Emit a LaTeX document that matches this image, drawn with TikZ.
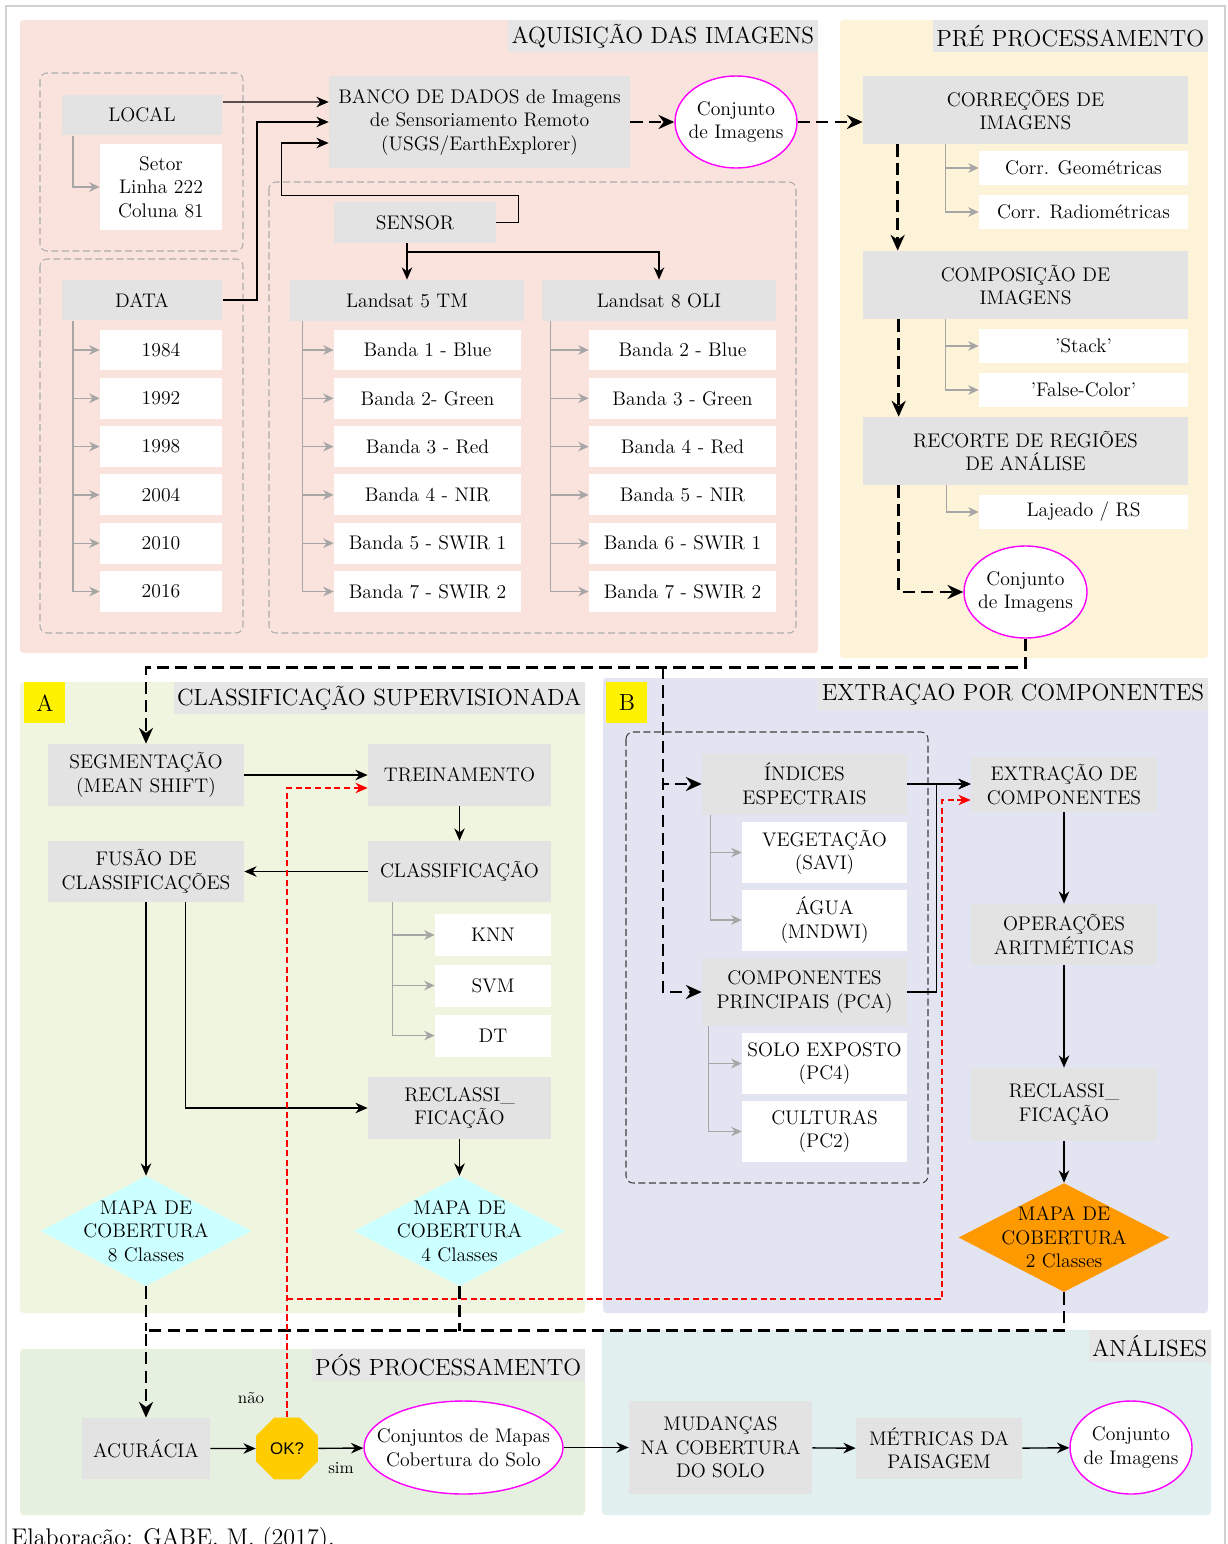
\documentclass[tikz,border=0pt]{standalone}
\usepackage{fontspec}
\newfontfamily\okfont{Liberation Sans}
\usetikzlibrary{arrows.meta,shapes.geometric}
\definecolor{rosa}{RGB}{251,227,221}
\definecolor{amarelo}{RGB}{253,243,216}
\definecolor{verdeA}{RGB}{240,245,223}
\definecolor{lavanda}{RGB}{227,228,241}
\definecolor{verdeP}{RGB}{230,240,224}
\definecolor{azulA}{RGB}{225,239,239}
\definecolor{cinza}{RGB}{227,227,227}
\definecolor{cinzaT}{RGB}{230,230,230}
\definecolor{ciano}{RGB}{204,255,255}
\definecolor{laranja}{RGB}{255,153,0}
\definecolor{ouro}{RGB}{255,204,0}
\definecolor{rosaforte}{RGB}{255,0,255}
\newcommand\fcaixa{\fontsize{11.2}{13.4}\selectfont}
\newcommand\ftitulo{\fontsize{13.3}{15}\selectfont}
\begin{document}
\begin{tikzpicture}[x=0.02cm, y=-0.02cm, font=\fcaixa,
	caixa/.style 2 args={fill=cinza, inner sep=0pt, align=center, minimum width=#1, minimum height=#2},
	branco/.style 2 args={fill=white, inner sep=0pt, align=center, minimum width=#1, minimum height=#2},
	titulo/.style={fill=cinzaT, anchor=north east, inner xsep=2pt, inner ysep=0pt, minimum height=0.64cm, font=\ftitulo},
	letra/.style={fill=yellow, anchor=north west, minimum size=0.82cm, inner sep=0pt, font=\ftitulo},
	grupo/.style={draw=gray!65, line width=0.6pt, dash pattern=on 4pt off 2pt, rounded corners=4pt},
	seta/.style={line width=0.8pt, -{Stealth[length=7pt,width=6pt]}},
	fluxo/.style={line width=1.6pt, dash pattern=on 7pt off 3.5pt},
	ponta/.style={-{Stealth[length=9pt,width=8pt]}},
	ramo/.style={draw=gray!70, line width=0.8pt, -{Stealth[length=6pt,width=5.5pt]}},
	volta/.style={draw=red, line width=0.6pt, dash pattern=on 3.5pt off 2pt, -{Stealth[length=7pt,width=6pt]}},
	conj/.style={ellipse, draw=rosaforte, fill=white, line width=0.8pt, inner sep=0pt},
	mapa/.style={diamond, inner sep=0pt, minimum width=4.22cm, minimum height=2.2cm}]
		\useasboundingbox (0,0) rectangle (1227,1544);
		\draw[black!18, line width=1pt] (6,1600) |- (1225,6) -- (1225,1600);
		%%%%%%%%% paineis
		\fill[rosa, rounded corners=2pt] (20,20) rectangle (818,653);
		\fill[amarelo, rounded corners=2pt] (840,20) rectangle (1208,658);
		\fill[verdeA, rounded corners=2pt] (20,682) rectangle (585,1313);
		\fill[lavanda, rounded corners=2pt] (603,678) rectangle (1208,1313);
		\fill[verdeP, rounded corners=2pt] (20,1349) rectangle (585,1515);
		\fill[azulA, rounded corners=2pt] (602,1330) rectangle (1211,1515);
		\node[titulo] (t1) at (818,20) {AQUISIÇÃO DAS IMAGENS};
		\node[titulo] (t2) at (1208,20) {PRÉ PROCESSAMENTO};
		\node[titulo] (t3) at (585,682) {CLASSIFICAÇÃO SUPERVISIONADA};
		\node[titulo] (t4) at (1208,678) {EXTRAÇAO POR COMPONENTES};
		\node[titulo] (t5) at (585,1349) {PÓS PROCESSAMENTO};
		\node[titulo] (t6) at (1211,1330) {ANÁLISES};
		\node[letra] (la) at (24,682) {A};
		\node[letra] (lb) at (606,682) {B};
		\draw[grupo] (40,73) rectangle (243,251);
		\draw[grupo] (40,259) rectangle (243,633);
		\draw[grupo] (269,182) rectangle (796,633);
		\draw[grupo, draw=black!75] (626,732) rectangle (928,1183);
		%%%%%%%%% aquisicao
		\node[caixa={3.22cm}{0.82cm}] (local) at (142,115) {LOCAL};
		\node[branco={2.44cm}{1.74cm}] (setor) at (161,187) {Setor\\Linha 222\\Coluna 81};
		\node[caixa={3.22cm}{0.82cm}] (data) at (142,300) {DATA};
		\foreach \txt [count=\i] in {1984,1992,1998,2004,2010,2016}
			\node[branco={2.44cm}{0.82cm}] (ano\i) at (161,{350+48.3*(\i-1)}) {\txt};
		\node[caixa={6.02cm}{1.84cm}] (banco) at (479.5,122) {BANCO DE DADOS de Imagens\\de Sensoriamento Remoto\\(USGS/EarthExplorer)};
		\node[caixa={3.24cm}{0.82cm}] (sensor) at (415,222.5) {SENSOR};
		\node[caixa={4.68cm}{0.82cm}] (l5) at (407,300.5) {Landsat 5 TM};
		\node[caixa={4.68cm}{0.82cm}] (l8) at (659,300.5) {Landsat 8 OLI};
		\foreach \txt [count=\i] in {Banda 1 - Blue, Banda 2- Green, Banda 3 - Red, Banda 4 - NIR, Banda 5 - SWIR 1, Banda 7 - SWIR 2}
			\node[branco={3.74cm}{0.82cm}] (tm\i) at (427.5,{350+48.3*(\i-1)}) {\txt};
		\foreach \txt [count=\i] in {Banda 2 - Blue, Banda 3 - Green, Banda 4 - Red, Banda 5 - NIR, Banda 6 - SWIR 1, Banda 7 - SWIR 2}
			\node[branco={3.74cm}{0.82cm}] (oli\i) at (682.5,{350+48.3*(\i-1)}) {\txt};
		\node[conj, minimum width=2.44cm, minimum height=1.84cm] (c1) at (736,122) {};
		\node[align=center] at (c1) {Conjunto\\de Imagens};
		\draw[ramo] ([xshift=0.24cm]local.south west) |- (setor.west);
		\foreach \i in {1,...,6} {
			\draw[ramo] ([xshift=0.24cm]data.south west) |- (ano\i.west);
			\draw[ramo] ([xshift=0.26cm]l5.south west) |- (tm\i.west);
			\draw[ramo] ([xshift=0.18cm]l8.south west) |- (oli\i.west);
		}
		\draw[seta] ([yshift=0.26cm]local.east) -- ([yshift=0.4cm]banco.west);
		\draw[seta] (data.east) -- ++(34,0) |- (banco.west);
		\draw[seta] (sensor.east) -- ++(22,0) -- ++(0,-27) -- ++(-237,0) |- ([yshift=-0.42cm]banco.west);
		\draw[seta] (l5.north |- sensor.south) -- (l5.north);
		\draw[seta] (l5.north |- 0,252) -| (l8.north);
		\draw[fluxo, ponta] (banco.east) -- (c1.west);
		%%%%%%%%% pre processamento
		\node[caixa={6.5cm}{1.36cm}] (corr) at (1025.5,110) {CORREÇÕES DE\\IMAGENS};
		\node[branco={4.18cm}{0.68cm}] (geo) at (1083.5,168) {Corr. Geométricas};
		\node[branco={4.18cm}{0.68cm}] (rad) at (1083.5,212) {Corr. Radiométricas};
		\node[caixa={6.5cm}{1.36cm}] (comp) at (1025.5,285) {COMPOSIÇÃO DE\\IMAGENS};
		\node[branco={4.18cm}{0.68cm}] (stack) at (1083.5,346) {'Stack'};
		\node[branco={4.18cm}{0.68cm}] (falsa) at (1083.5,390) {'False-Color'};
		\node[caixa={6.5cm}{1.36cm}] (recorte) at (1025.5,451) {RECORTE DE REGIÕES\\DE ANÁLISE};
		\node[branco={4.18cm}{0.68cm}] (laj) at (1083.5,512) {Lajeado / RS};
		\node[conj, minimum width=2.46cm, minimum height=1.84cm] (c2) at (1025.5,592) {};
		\node[align=center] at (c2) {Conjunto\\de Imagens};
		\draw[fluxo, ponta] (c1.east) -- (c1.east -| corr.west);
		\draw[ramo] ([xshift=1.66cm]corr.south west) |- (geo.west);
		\draw[ramo] ([xshift=1.66cm]corr.south west) |- (rad.west);
		\draw[ramo] ([xshift=1.66cm]comp.south west) |- (stack.west);
		\draw[ramo] ([xshift=1.66cm]comp.south west) |- (falsa.west);
		\draw[ramo] ([xshift=1.68cm]recorte.south west) |- (laj.west);
		\draw[fluxo, ponta] ([xshift=0.7cm]corr.south west) -- ([xshift=0.7cm]comp.north west);
		\draw[fluxo, ponta] ([xshift=0.72cm]comp.south west) -- ([xshift=0.72cm]recorte.north west);
		\draw[fluxo, ponta] ([xshift=0.72cm]recorte.south west) |- (c2.west);
		%%%%%%%%% classificacao supervisionada
		\node[caixa={3.92cm}{1.24cm}] (seg) at (146,775) {SEGMENTAÇÃO\\(MEAN SHIFT)};
		\node[caixa={3.66cm}{1.24cm}] (trein) at (459.5,775) {TREINAMENTO};
		\node[caixa={3.66cm}{1.22cm}] (class) at (459.5,871.5) {CLASSIFICAÇÃO};
		\node[caixa={3.92cm}{1.22cm}] (fusao) at (146,871.5) {FUSÃO DE\\CLASSIFICAÇÕES};
		\node[branco={2.32cm}{0.84cm}] (knn) at (493,935) {KNN};
		\node[branco={2.32cm}{0.84cm}] (svm) at (493,985.5) {SVM};
		\node[branco={2.32cm}{0.84cm}] (dt) at (493,1035.5) {DT};
		\node[caixa={3.66cm}{1.24cm}] (recl) at (459.5,1108) {RECLASSI\_\\FICAÇÃO};
		\node[mapa, fill=ciano] (m8) at (146,1231) {};
		\node[align=center] at (m8) {MAPA DE\\COBERTURA\\8 Classes};
		\node[mapa, fill=ciano] (m4) at (459.5,1231) {};
		\node[align=center] at (m4) {MAPA DE\\COBERTURA\\4 Classes};
		\draw[seta] (seg) -- (trein);
		\draw[seta] (trein) -- (class);
		\draw[seta] (class) -- (fusao);
		\draw[seta] (fusao) -- (m8);
		\draw[seta] ([xshift=2.76cm]fusao.south west) |- (recl.west);
		\draw[seta] (recl) -- (m4);
		\foreach \n in {knn,svm,dt}
			\draw[ramo] ([xshift=0.5cm]class.south west) |- (\n.west);
		%%%%%%%%% extracao por componentes
		\node[caixa={4.1cm}{1.22cm}] (ind) at (804.5,784) {ÍNDICES\\ESPECTRAIS};
		\node[branco={3.3cm}{1.22cm}] (veg) at (824.5,852.5) {VEGETAÇÃO\\(SAVI)};
		\node[branco={3.3cm}{1.22cm}] (agua) at (824.5,920) {ÁGUA\\(MNDWI)};
		\node[caixa={4.1cm}{1.36cm}] (pca) at (804.5,992) {COMPONENTES\\PRINCIPAIS (PCA)};
		\node[branco={3.3cm}{1.22cm}] (solo) at (824.5,1063.5) {SOLO EXPOSTO\\(PC4)};
		\node[branco={3.3cm}{1.22cm}] (cult) at (824.5,1131.5) {CULTURAS\\(PC2)};
		\node[caixa={3.72cm}{1.1cm}] (extr) at (1064,784.5) {EXTRAÇÃO DE\\COMPONENTES};
		\node[caixa={3.72cm}{1.22cm}] (oper) at (1064,934.5) {OPERAÇÕES\\ARITMÉTICAS};
		\node[caixa={3.72cm}{1.46cm}] (reclb) at (1064,1104.5) {RECLASSI\_\\FICAÇÃO};
		\node[mapa, fill=laranja, minimum width=4.22cm, minimum height=2.18cm] (m2) at (1064,1237.5) {};
		\node[align=center] at (m2) {MAPA DE\\COBERTURA\\2 Classes};
		\draw[ramo] ([xshift=0.18cm]ind.south west) |- (veg.west);
		\draw[ramo] ([xshift=0.18cm]ind.south west) |- (agua.west);
		\draw[ramo] ([xshift=0.14cm]pca.south west) |- (solo.west);
		\draw[ramo] ([xshift=0.14cm]pca.south west) |- (cult.west);
		\draw[seta] (ind.east) -- (ind.east -| extr.west);
		\draw[seta] (pca.east) -- ++(29,0) |- (ind.east -| extr.west);
		\draw[seta] (extr) -- (oper);
		\draw[seta] (oper) -- (reclb);
		\draw[seta] (reclb) -- (m2);
		%%%%%%%%% pos processamento e analises
		\node[caixa={2.56cm}{1.22cm}] (acur) at (146,1448.5) {ACURÁCIA};
		\node[regular polygon, regular polygon sides=8, minimum size=1.34cm, inner sep=0pt, fill=ouro,
			font=\okfont\fontsize{9.6}{11}\selectfont] (ok) at (287,1448.5) {OK?};
		\node[font=\fontsize{9.6}{11}\selectfont] (nao) at (251,1398) {não};
		\node[font=\fontsize{9.6}{11}\selectfont] (sim) at (341,1468) {sim};
		\node[conj, minimum width=3.98cm, minimum height=1.86cm] (c3) at (463.5,1447.5) {};
		\node[align=center] at (c3) {Conjuntos de Mapas\\Cobertura do Solo};
		\node[caixa={3.66cm}{1.86cm}] (mud) at (720.5,1447.5) {MUDANÇAS\\NA COBERTURA\\DO SOLO};
		\node[caixa={3.32cm}{1.22cm}] (metr) at (939,1448.5) {MÉTRICAS DA\\PAISAGEM};
		\node[conj, minimum width=2.44cm, minimum height=1.86cm] (c4) at (1131,1447.5) {};
		\node[align=center] at (c4) {Conjunto\\de Imagens};
		\draw[seta] (acur) -- (ok);
		\draw[seta] (ok) -- (c3);
		\draw[seta] (c3) -- (mud);
		\draw[seta] (mud) -- (metr);
		\draw[seta] (metr) -- (c4);
		%%%%%%%%% ligacoes tracejadas
		\draw[fluxo, ponta] (c2.south) -- ++(0,29) -| (seg.north);
		\coordinate (bif) at (663,667);
		\draw[fluxo, ponta] (bif) |- (ind.west);
		\draw[fluxo, ponta] (bif) |- (pca.west);
		\draw[fluxo] (m8.south) -- ++(0,45);
		\draw[fluxo] (m4.south) -- ++(0,45);
		\draw[fluxo, ponta] (m2.south) |- ([yshift=1.74cm]acur.north) -- (acur.north);
		\draw[volta] (ok.north) |- ([yshift=-0.26cm]trein.west);
		\draw[volta] (ok.north |- 0,1299) -- (942,1299) |- ([yshift=-0.31cm]extr.west);
		\node[anchor=base west, inner sep=0pt, font=\fontsize{13.7}{16}\selectfont] (fonte) at (11,1545) {Elaboração: GABE, M. (2017).};
	\end{tikzpicture}
\end{document}
